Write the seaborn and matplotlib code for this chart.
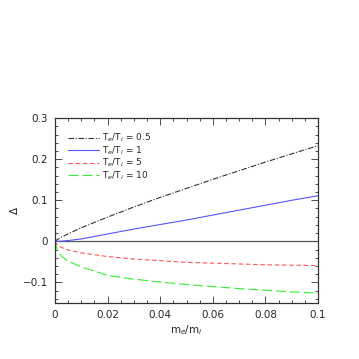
import numpy as np
import pandas as pd
import matplotlib
matplotlib.use("Agg")
import matplotlib.pyplot as plt
from matplotlib.ticker import MultipleLocator, FuncFormatter
import seaborn as sns

# mass ratio m_e/m_i
mass_ratio = [0, 0.001, 0.0025, 0.005, 0.01, 0.02, 0.03, 0.04, 0.05, 0.06, 0.07, 0.08, 0.09, 0.1]

# Delta for each temperature ratio
delta_05 = [0, 0.0047, 0.0102, 0.0183, 0.033, 0.059, 0.0837, 0.107, 0.129, 0.151, 0.172, 0.193, 0.213, 0.233]
delta_1 = [0, 0.0, 0.0005, 0.002, 0.006, 0.018, 0.030, 0.041, 0.052, 0.064, 0.076, 0.088, 0.100, 0.111]
delta_5 = [0, -0.010, -0.015, -0.021, -0.028, -0.037, -0.043, -0.047, -0.051, -0.053, -0.055, -0.057, -0.058, -0.059]
delta_10 = [0, -0.025, -0.036, -0.048, -0.062, -0.083, -0.092, -0.099, -0.105, -0.110, -0.115, -0.119, -0.123, -0.126]

labels = ["T$_e$/T$_i$ = 0.5", "T$_e$/T$_i$ = 1", "T$_e$/T$_i$ = 5", "T$_e$/T$_i$ = 10"]

sns.set_style("ticks")
plt.rcParams["font.family"] = ["DejaVu Sans"]
plt.rcParams["font.size"] = 7.5

fig = plt.figure(figsize=(3.59, 3.59), dpi=100)
ax = fig.add_axes([0.153, 0.156, 0.733, 0.515])

ax.axhline(0, color="#555555", lw=0.9, zorder=1)

series = [delta_05, delta_1, delta_5, delta_10]
colors = ["#333333", "#5555ff", "#ff5555", "#33ee33"]
dashes = [(5, 1.5, 1, 1.5), (), (4, 2.5), (9, 3.5)]

for vals, lab, col, d in zip(series, labels, colors, dashes):
    df = pd.DataFrame({"x": mass_ratio, "y": vals})
    sns.lineplot(data=df, x="x", y="y", ax=ax, color=col, lw=0.8, label=lab, zorder=2)
    if d:
        ax.lines[-1].set_dashes(d)

ax.set_xlim(0, 0.1)
ax.set_ylim(-0.15, 0.3)
ax.xaxis.set_major_locator(MultipleLocator(0.02))
ax.xaxis.set_minor_locator(MultipleLocator(0.005))
ax.yaxis.set_major_locator(MultipleLocator(0.1))
ax.yaxis.set_minor_locator(MultipleLocator(0.02))
fmt = FuncFormatter(lambda v, p: ("%g" % round(v, 6)).replace("-", "\u2212"))
ax.xaxis.set_major_formatter(fmt)
ax.yaxis.set_major_formatter(fmt)
ax.tick_params(which="both", direction="in", top=True, right=True, width=0.6, color="#333333")
ax.tick_params(which="major", length=5, pad=5)
ax.tick_params(which="minor", length=2.5)
for s in ax.spines.values():
    s.set_linewidth(0.9)
    s.set_color("#333333")

ax.set_xlabel("m$_e$/m$_i$", labelpad=2)
ax.set_ylabel("\u0394", labelpad=2)

leg = ax.legend(loc="upper left", frameon=False, handlelength=3.4, handletextpad=0.3,
                labelspacing=0.0, fontsize=6.5, bbox_to_anchor=(0.02, 0.97))

fig.savefig("out.png", dpi=100)
